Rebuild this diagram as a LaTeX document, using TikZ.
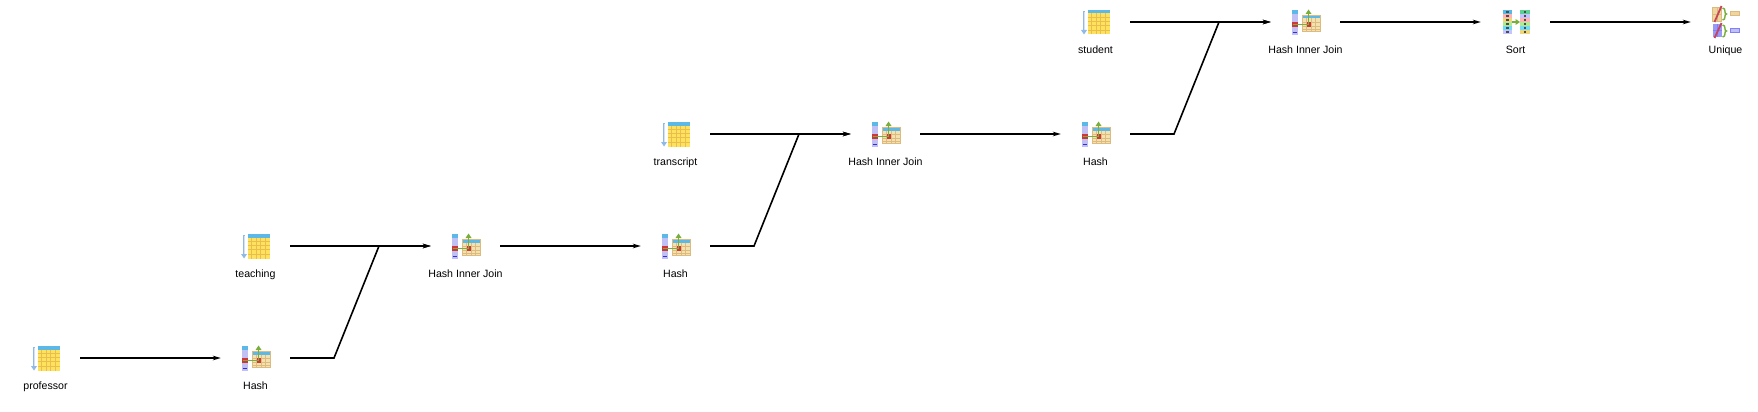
\documentclass[tikz,border=0pt]{standalone}
\usepackage{fontspec}
\setmainfont{Liberation Sans}
\usetikzlibrary{arrows.meta}
\definecolor{headblue}{HTML}{5CB8E6}
\definecolor{scanfill}{HTML}{FFE25C}
\definecolor{scangrid}{HTML}{E8BE50}
\definecolor{hashfill}{HTML}{F4E2AE}
\definecolor{hashgrid}{HTML}{DDBB80}
\definecolor{barfill}{HTML}{C0C0F4}
\definecolor{joinred}{HTML}{CC3838}
\definecolor{joingreen}{HTML}{78AE3C}
\definecolor{thermo}{HTML}{92B8E4}
\definecolor{slashred}{HTML}{C84458}
\definecolor{cellblue}{HTML}{58B8E4}
\definecolor{cellpink}{HTML}{FFB4B4}
\definecolor{celltan}{HTML}{EED67E}
\definecolor{cellgreen}{HTML}{B0EA94}
\definecolor{cellcyan}{HTML}{74DAF2}
\definecolor{celllav}{HTML}{C4C4FF}
\definecolor{cellteal}{HTML}{5CCF94}
\tikzset{
  opbox/.style={minimum width=69pt,minimum height=30pt,inner sep=0pt},
  opname/.style={anchor=base,inner sep=0pt,font=\fontsize{10.6pt}{12pt}\selectfont},
  flow/.style={line width=1.6pt,-{Stealth[length=8pt,width=4.6pt]}},
  scanicon/.pic={
    \draw [thermo,line width=2.8pt] (-11.5,-11) -- (-11.5,9);
    \draw [white!60!thermo,line width=1pt] (-11.5,-10) -- (-11.5,9);
    \fill [thermo] (-14.5,8) -- (-8.5,8) -- (-11.5,12.5) -- cycle;
    \fill [scanfill] (-8,-12) rectangle (14.5,12.5);
    \fill [headblue] (-8,-12) rectangle (14.5,-8.5);
    \foreach \x in {-4,0.5,5,9.5} {
    \draw [scangrid,line width=.8pt] (\x,-8.5) -- (\x,12.5);}
    \foreach \x in {-4.5,-0.5,3.5,8} {
    \draw [scangrid,line width=.8pt] (-8,\x) -- (14.5,\x);}
  },
  hashicon/.pic={
    \fill [barfill] (-14,-12) rectangle (-8,13);
    \fill [headblue] (-14,-12) rectangle (-8,-8);
    \fill [joinred] (-14,0) rectangle (-8,5);
    \draw [blue!60!gray,line width=.6pt] (-13,10) -- (-9,10);
    \fill [hashfill] (-3,-7) rectangle (14.5,9);
    \fill [headblue] (-3,-7) rectangle (14.5,-3.5);
    \foreach \x in {1,5.5,10} {
    \draw [hashgrid,line width=.6pt] (\x,-3.5) -- (\x,9);}
    \foreach \x in {0.5,4,7} {
    \draw [hashgrid,line width=.6pt] (-3,\x) -- (14.5,\x);}
    \draw [hashgrid,line width=.6pt] (-3,-7) rectangle (14.5,9);
    \fill [joinred] (1.5,0) rectangle (5.5,4.7);
    \draw [joingreen,line width=1.7pt] (-13,2.5) -- (3,2.5) -- (3,-9);
    \fill [joingreen] (0,-8) -- (6,-8) -- (3,-12.5) -- cycle;
  },
  sorticon/.pic={
    \foreach \y/\col in {-12/cellblue,-8/cellpink,-4/celltan,0/cellgreen,4/cellcyan,8/celllav} {
    \fill [\col] (-13,\y) rectangle (-3.5,\y+4);
    \fill [black!70] (-9.5,\y+1.4) rectangle (-7,\y+2.6);}
    \foreach \y/\col in {-12/cellteal,-8/celllav,-4/cellpink,0/cellgreen,4/cellcyan,8/celltan} {
    \fill [\col] (4.5,\y) rectangle (14,\y+4);
    \fill [black!70] (8,\y+1.4) rectangle (10.5,\y+2.6);}
    \draw [joingreen,line width=1.5pt] (-3.5,0) -- (1,0);
    \fill [joingreen] (0,-3) -- (4.5,0) -- (0,3) -- cycle;
  },
  uniqueicon/.pic={
    \fill [hashfill!70!hashgrid] (-13,-15) rectangle (-4,-1);
    \draw [hashgrid,line width=.6pt] (-13,-15) rectangle (-4,-1);
    \draw [hashgrid,line width=.5pt] (-8.5,-15) -- (-8.5,-1) (-13,-8) -- (-4,-8);
    \fill [barfill!80!blue] (-13,2) rectangle (-4,15);
    \draw [blue!50,line width=.5pt] (-8.5,2) -- (-8.5,15) (-13,8.5) -- (-4,8.5);
    \draw [slashred,line width=1.8pt] (-11,0) -- (-4,-16);
    \draw [slashred,line width=1.8pt] (-11,16) -- (-4,1);
    \draw [joingreen,line width=1.4pt] (-3,-14) .. controls (1,-14) and (-2,-8) .. (1,-8) .. controls (-2,-8) and (1,-2) .. (-3,-2);
    \draw [joingreen,line width=1.4pt] (-3,3) .. controls (1,3) and (-2,9) .. (1,9) .. controls (-2,9) and (1,15) .. (-3,15);
    \fill [hashfill!70!hashgrid] (5,-11) rectangle (14,-7);
    \draw [hashgrid,line width=.5pt] (5,-11) rectangle (14,-7);
    \fill [barfill] (5,6) rectangle (14,10);
    \draw [blue!50,line width=.5pt] (5,6) rectangle (14,10);
  }
}
\begin{document}
\begin{tikzpicture}[x=1pt,y=-1pt]
\useasboundingbox (0,0) rectangle (1758,412);

\foreach \name/\x/\y/\icon/\txt in {
  professor/45.5/358/scanicon/professor,
  hashA/255.5/358/hashicon/Hash,
  teaching/255.5/246/scanicon/teaching,
  joinA/465.5/246/hashicon/Hash Inner Join,
  hashB/675.5/246/hashicon/Hash,
  transcript/675.5/134/scanicon/transcript,
  joinB/885.5/134/hashicon/Hash Inner Join,
  hashC/1095.5/134/hashicon/Hash,
  student/1095.5/22/scanicon/student,
  joinC/1305.5/22/hashicon/Hash Inner Join,
  sort/1515.5/22/sorticon/Sort,
  unique/1725.5/22/uniqueicon/Unique} {
\node [opbox] (\name) at (\x,\y) {};
\pic at (\x,\y) {\icon};
\node [opname] (\name name) at (\x,\y+31.5) {\txt};}

\draw [flow] (professor) -- (hashA);
\draw [flow] (teaching) -- (joinA);
\draw [flow] (hashA) -- ++(78.5,0) -- ++(45,-112) -- (joinA);
\draw [flow] (joinA) -- (hashB);
\draw [flow] (transcript) -- (joinB);
\draw [flow] (hashB) -- ++(78.5,0) -- ++(45,-112) -- (joinB);
\draw [flow] (joinB) -- (hashC);
\draw [flow] (student) -- (joinC);
\draw [flow] (hashC) -- ++(78.5,0) -- ++(45,-112) -- (joinC);
\draw [flow] (joinC) -- (sort);
\draw [flow] (sort) -- (unique);
\end{tikzpicture}
\end{document}
